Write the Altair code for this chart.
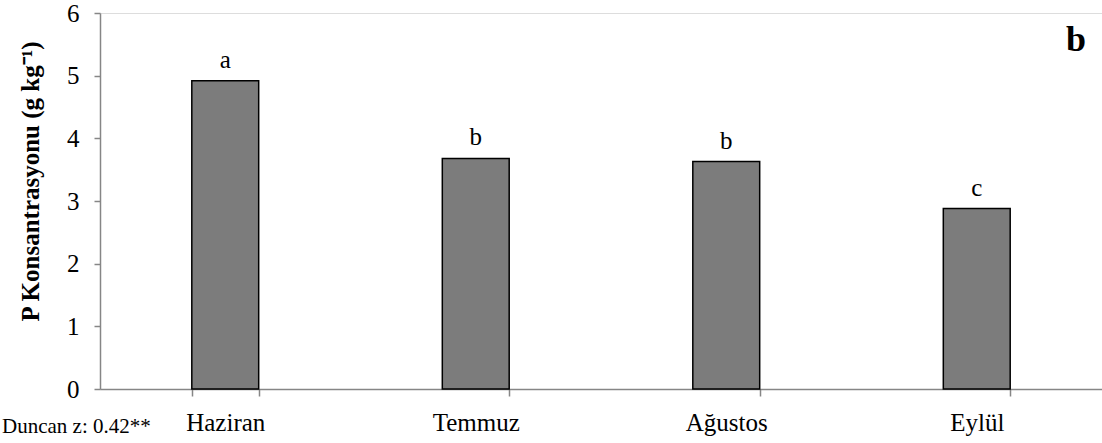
import altair as alt
import pandas as pd

months = ["Haziran", "Temmuz", "Ağustos", "Eylül"]
values = [4.92, 3.68, 3.63, 2.88]
letters = ["a", "b", "b", "c"]

df = pd.DataFrame({"month": months, "value": values, "letter": letters})

FONT = "Liberation Serif"
AXIS_GRAY = "#868686"

x_enc = alt.X(
    "month:N",
    sort=months,
    scale=alt.Scale(paddingInner=0.733, paddingOuter=0.3665),
    axis=alt.Axis(
        title=None, labelAngle=0, tickBand="extent", tickSize=7,
        labelPadding=14, labelFont=FONT, labelFontSize=25, labelColor="black",
        domainColor=AXIS_GRAY, tickColor=AXIS_GRAY, domainWidth=1.5, tickWidth=1.5,
    ),
)
y_enc = alt.Y(
    "value:Q",
    scale=alt.Scale(domain=[0, 6], nice=False),
    axis=alt.Axis(
        title="P Konsantrasyonu  (g kg⁻¹)", titleFont=FONT, titleFontSize=25,
        titleFontWeight="bold", titleColor="black",
        titleX=-57, titleY=168, titleAlign="center", titleAngle=270,
        titleBaseline="bottom",
        values=[0, 1, 2, 3, 4, 5, 6], format="d", grid=False,
        tickSize=6, labelPadding=15, labelFont=FONT, labelFontSize=25,
        labelColor="black", domainColor=AXIS_GRAY, tickColor=AXIS_GRAY,
        domainWidth=1.5, tickWidth=1.5,
    ),
)

bars = alt.Chart(df).mark_bar(
    fill="#7c7c7c", stroke="black", strokeWidth=1.5
).encode(x=x_enc, y=y_enc)

labels = alt.Chart(df).mark_text(
    font=FONT, fontSize=25, baseline="bottom", dy=-8, color="black"
).encode(x=alt.X("month:N", sort=months), y="value:Q", text="letter:N")

duncan = alt.Chart(pd.DataFrame({"t": ["Duncan z: 0.42**"]})).mark_text(
    font=FONT, fontSize=21, align="left", baseline="alphabetic", color="black"
).encode(x=alt.value(-98), y=alt.value(420), text="t:N")

panel = alt.Chart(pd.DataFrame({"t": ["b"]})).mark_text(
    font=FONT, fontSize=36, fontWeight="bold", align="center",
    baseline="alphabetic", color="black"
).encode(x=alt.value(976), y=alt.value(38), text="t:N")

chart = alt.layer(bars, labels, duncan, panel).properties(
    width=1002, height=376,
    autosize=alt.AutoSizeParams(type="none"),
    padding={"left": 100, "top": 13, "right": 0, "bottom": 54},
).configure_view(stroke=None).configure(background="white")

chart.save("out.html", embed_options={"renderer": "svg", "actions": False})
